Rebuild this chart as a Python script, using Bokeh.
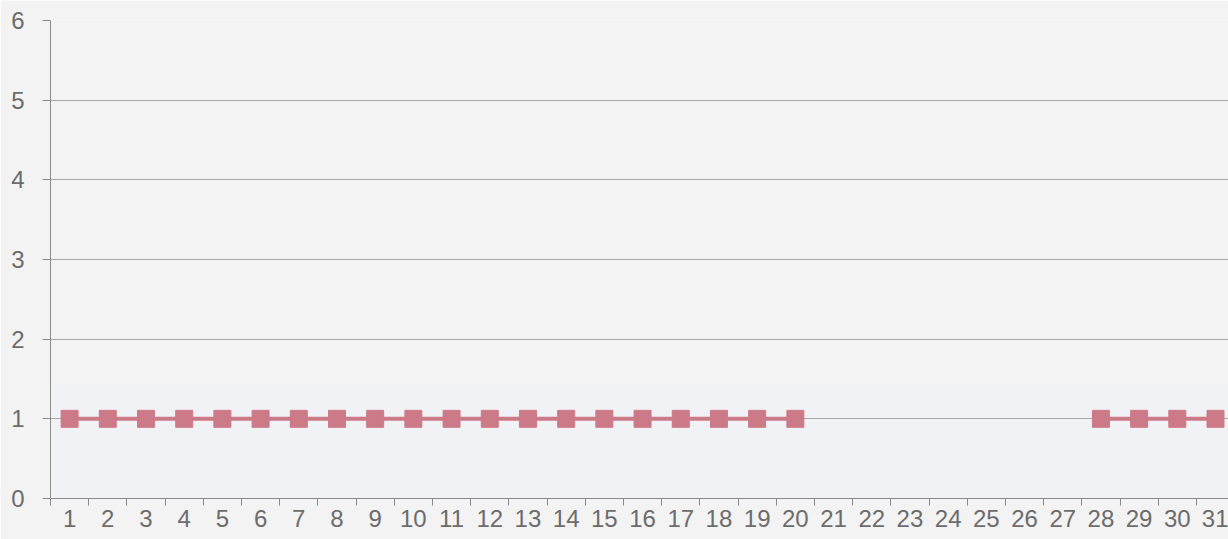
from bokeh.plotting import figure
from bokeh.models import FixedTicker, BoxAnnotation, Range1d, ColumnDataSource
from bokeh.embed import file_html
from bokeh.resources import INLINE
import numpy as np

days = list(range(1, 32))
values = [1, 1, 1, 1, 1, 1, 1, 1, 1, 1, 1, 1, 1, 1, 1, 1, 1, 1, 1, 1,
          None, None, None, None, None, None, None,
          1, 1, 1, 1]
y_ticks = [0, 1, 2, 3, 4, 5, 6]

vals = np.array([np.nan if v is None else v for v in values], dtype=float)
src = ColumnDataSource(dict(x=days, y=vals))

p = figure(width=1228, height=539, output_backend="svg", toolbar_location=None,
           x_range=Range1d(0.5, 31.34), y_range=Range1d(0, 6),
           min_border_left=50, min_border_right=0, min_border_top=20, min_border_bottom=41)
p.background_fill_color = "#f3f3f3"
p.border_fill_color = "#f3f3f3"
p.outline_line_color = None

p.add_layout(BoxAnnotation(top=1.45, fill_color="#edf1fa", line_color=None, level="image"))

p.xgrid.grid_line_color = None
p.ygrid.ticker = FixedTicker(ticks=y_ticks)
p.ygrid.grid_line_color = "#a8a8a8"
p.ygrid.grid_line_width = 1

p.xaxis.ticker = FixedTicker(ticks=days, minor_ticks=[d - 0.5 for d in days] + [31.5])
p.xaxis.major_tick_out = 0
p.xaxis.major_tick_in = 0
p.xaxis.minor_tick_out = 7
p.xaxis.minor_tick_in = 0
p.xaxis.major_label_standoff = 4
p.yaxis.ticker = FixedTicker(ticks=y_ticks)
p.yaxis.major_tick_out = 8
p.yaxis.major_tick_in = 0
p.yaxis.minor_tick_line_color = None
p.yaxis.major_label_standoff = 18

for ax in (p.xaxis, p.yaxis):
    ax.axis_line_color = "#8a8a8a"
    ax.major_tick_line_color = "#8a8a8a"
    ax.major_label_text_font = "Liberation Sans"
    ax.major_label_text_font_size = "24px"
    ax.major_label_text_color = "#6c6c6c"
p.xaxis.minor_tick_line_color = "#8a8a8a"

p.line("x", "y", source=src, line_color="#cd7a88", line_width=4)
p.scatter("x", "y", source=src, marker="square", size=17, fill_color="#cd7a88", line_color="#cd7a88")

open("out.html", "w").write(file_html(p, INLINE))
